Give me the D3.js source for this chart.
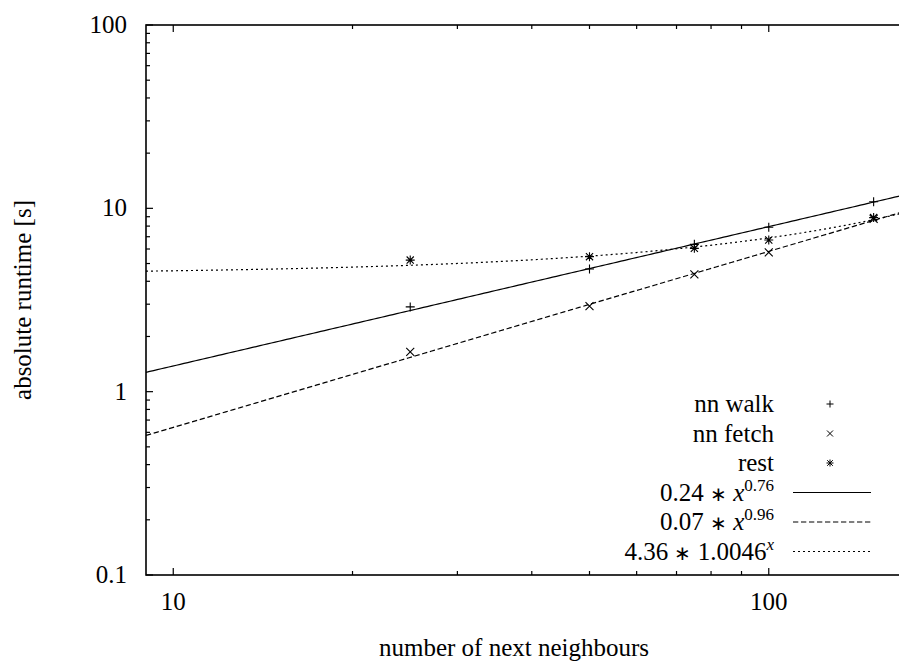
<!DOCTYPE html>
<html>
<head>
<meta charset="utf-8">
<script src="https://cdn.jsdelivr.net/npm/d3@7"></script>
</head>
<body style="margin:0">
<svg id="chart" width="899" height="664"></svg>
<script>
// measured neighbour counts and runtimes (seconds)
const neighbours = [25, 50, 75, 100, 150];
const nnWalk  = [2.90, 4.67, 6.36, 7.88, 10.87];
const nnFetch = [1.65, 2.93, 4.36, 5.75, 8.75];
const rest    = [5.22, 5.45, 6.05, 6.72, 8.90];

// fitted models: a * x^b (power) and a * b^x (exponential)
const fitWalk  = { a: 0.24, b: 0.76 };
const fitFetch = { a: 0.07, b: 0.96 };
const fitRest  = { a: 4.36, b: 1.0046 };

const xTickLabels = ["10", "100"];
const yTickLabels = ["0.1", "1", "10", "100"];
const xLabel = "number of next neighbours";
const yLabel = "absolute runtime [s]";

const svg = d3.select("#chart");
const plotL = 146, plotT = 25, plotB = 575, plotR = 906;

const x = d3.scaleLog().domain([9, 170]).range([plotL, plotR]);
const y = d3.scaleLog().domain([0.1, 100]).range([plotB, plotT]);

// serif text helper
function serifText(parent) {
  return parent.append("text")
    .attr("font-size", 25)
    .style("font-family", "Liberation Serif");
}

// ---- ticks (inward, mirrored on all sides) ----
const majorLen = 7, minorLen = 4;
const xMajor = [10, 100];
const xMinor = [];
[1, 10, 100].forEach(d => { for (let k = 2; k <= 9; k++) xMinor.push(d * k); });
const xMinorIn = xMinor.filter(v => v > 9 && v < 170);
const yMajor = [0.1, 1, 10, 100];
const yMinor = [];
[0.1, 1, 10].forEach(d => { for (let k = 2; k <= 9; k++) yMinor.push(+(d * k).toFixed(3)); });

const tickG = svg.append("g").attr("stroke", "#000").attr("stroke-width", 1.2);
function xTicks(vals, len) {
  vals.forEach(v => {
    const px = x(v);
    tickG.append("line").attr("x1", px).attr("x2", px).attr("y1", plotB).attr("y2", plotB - len);
    tickG.append("line").attr("x1", px).attr("x2", px).attr("y1", plotT).attr("y2", plotT + len);
  });
}
function yTicks(vals, len) {
  vals.forEach(v => {
    const py = y(v);
    tickG.append("line").attr("x1", plotL).attr("x2", plotL + len).attr("y1", py).attr("y2", py);
    tickG.append("line").attr("x1", plotR).attr("x2", plotR - len).attr("y1", py).attr("y2", py);
  });
}
xTicks(xMajor, majorLen);
xTicks(xMinorIn, minorLen);
yTicks(yMajor, majorLen);
yTicks(yMinor, minorLen);

// frame
svg.append("rect")
  .attr("x", plotL).attr("y", plotT)
  .attr("width", plotR - plotL).attr("height", plotB - plotT)
  .attr("fill", "none").attr("stroke", "#000").attr("stroke-width", 1.6);

// tick labels
yMajor.forEach((d, i) => {
  serifText(svg)
    .attr("x", 127).attr("y", y(d) + 8)
    .attr("text-anchor", "end")
    .text(yTickLabels[i]);
});
xMajor.forEach((d, i) => {
  serifText(svg)
    .attr("x", x(d)).attr("y", 610)
    .attr("text-anchor", "middle")
    .text(xTickLabels[i]);
});

// axis titles
serifText(svg)
  .attr("x", 514).attr("y", 656)
  .attr("text-anchor", "middle")
  .text(xLabel);

serifText(svg)
  .attr("transform", `translate(31,${(plotT + plotB) / 2}) rotate(-90)`)
  .attr("text-anchor", "middle")
  .text(yLabel);

// ---- fit curves ----
svg.append("clipPath").attr("id", "plotclip")
  .append("rect").attr("x", plotL).attr("y", plotT).attr("width", plotR - plotL).attr("height", plotB - plotT);

const xs = d3.range(0, 201).map(i => 9 * Math.pow(170 / 9, i / 200));
const powerFit = f => v => f.a * Math.pow(v, f.b);
const expFit = f => v => f.a * Math.pow(f.b, v);

const fits = [
  { fn: powerFit(fitWalk),  dash: null },
  { fn: powerFit(fitFetch), dash: "5.3,2.7" },
  { fn: expFit(fitRest),    dash: "2,3" }
];

const line = d3.line().x(d => x(d[0])).y(d => y(d[1]));
const curves = svg.append("g").attr("clip-path", "url(#plotclip)");
fits.forEach(f => {
  curves.append("path")
    .attr("d", line(xs.map(v => [v, f.fn(v)])))
    .attr("fill", "none")
    .attr("stroke", "#000")
    .attr("stroke-width", 1.2)
    .attr("stroke-dasharray", f.dash);
});

// ---- point markers ----
const plusPath = s => `M${-s},0H${s}M0,${-s}V${s}`;
const crossPath = s => `M${-s},${-s}L${s},${s}M${-s},${s}L${s},${-s}`;
const starPath = s => plusPath(s) + crossPath(s * 0.8);

const markers = [
  { vals: nnWalk,  shape: plusPath(4.5) },
  { vals: nnFetch, shape: crossPath(4) },
  { vals: rest,    shape: starPath(4.5) }
];

const pts = svg.append("g").attr("stroke", "#000").attr("stroke-width", 1.1).attr("fill", "none");
markers.forEach(m => {
  pts.selectAll(null).data(neighbours.map((n, i) => [n, m.vals[i]])).join("path")
    .attr("transform", d => `translate(${x(d[0])},${y(d[1])})`)
    .attr("d", m.shape);
});

// ---- legend ----
const legendRows = [
  { kind: "point", text: "nn walk", shape: plusPath(3.5) },
  { kind: "point", text: "nn fetch", shape: crossPath(3) },
  { kind: "point", text: "rest", shape: starPath(3.5) },
  { kind: "line", coef: "0.24", base: "x", baseItalic: true, exp: "0.76", expItalic: false, dash: null },
  { kind: "line", coef: "0.07", base: "x", baseItalic: true, exp: "0.96", expItalic: false, dash: "5.3,2.7" },
  { kind: "line", coef: "4.36", base: "1.0046", baseItalic: false, exp: "x", expItalic: true, dash: "2,3" }
];
const legendTop = 404, rowH = 29.5, textRight = 774, symX = 830, lineX1 = 793, lineX2 = 871;

legendRows.forEach((r, i) => {
  const cy = legendTop + i * rowH;
  const t = serifText(svg)
    .attr("x", textRight).attr("y", cy + 8)
    .attr("text-anchor", "end");
  if (r.kind === "point") {
    t.text(r.text);
    svg.append("path")
      .attr("transform", `translate(${symX},${cy})`)
      .attr("d", r.shape)
      .attr("stroke", "#000").attr("stroke-width", 1).attr("fill", "none");
  } else {
    t.append("tspan").text(r.coef + " ");
    t.append("tspan").attr("font-size", 20).text("∗");
    t.append("tspan").text(" ");
    t.append("tspan").style("font-style", r.baseItalic ? "italic" : "normal").text(r.base);
    t.append("tspan")
      .attr("font-size", 17)
      .attr("dy", -10)
      .style("font-style", r.expItalic ? "italic" : "normal")
      .text(r.exp);
    svg.append("line")
      .attr("x1", lineX1).attr("x2", lineX2)
      .attr("y1", cy).attr("y2", cy)
      .attr("stroke", "#000").attr("stroke-width", 1.2)
      .attr("stroke-dasharray", r.dash);
  }
});
</script>
</body>
</html>
